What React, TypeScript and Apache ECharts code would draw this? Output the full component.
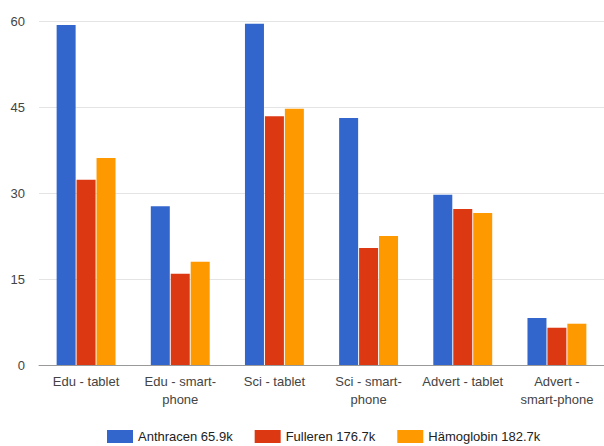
import React, { useEffect, useRef } from "react";
import * as echarts from "echarts";

const categories = [
  "Edu - tablet",
  "Edu - smart-\nphone",
  "Sci - tablet",
  "Sci - smart-\nphone",
  "Advert - tablet",
  "Advert -\nsmart-phone",
];
const seriesNames = ["Anthracen 65.9k", "Fulleren 176.7k", "Hämoglobin 182.7k"];
const anthracen = [59.3, 27.7, 59.5, 43.1, 29.7, 8.2];
const fulleren = [32.3, 15.9, 43.4, 20.4, 27.2, 6.5];
const haemoglobin = [36.1, 18.0, 44.7, 22.5, 26.5, 7.2];
const colors = ["#3366cc", "#dc3912", "#ff9900"];
const yTicks = [0, 15, 30, 45, 60];

export default function App() {
  const ref = useRef<HTMLDivElement>(null);
  useEffect(() => {
    if (!ref.current) return;
    const chart = echarts.init(ref.current, undefined, { renderer: "svg" });
    const font = "Arial, 'Liberation Sans', sans-serif";
    const values = [anthracen, fulleren, haemoglobin];
    chart.setOption({
      animation: false,
      color: colors,
      textStyle: { fontFamily: font },
      grid: { left: 39, right: 0, top: 21, bottom: 81, containLabel: false },
      legend: {
        left: 107,
        top: 430,
        padding: 0,
        itemWidth: 26,
        itemHeight: 13,
        itemGap: 22,
        icon: "rect",
        textStyle: { fontSize: 13, color: "#222", fontFamily: font },
        data: seriesNames,
      },
      xAxis: {
        type: "category",
        data: categories,
        axisTick: { show: false },
        axisLine: { lineStyle: { color: "#999", width: 1 } },
        axisLabel: {
          interval: 0,
          fontSize: 13,
          color: "#444",
          lineHeight: 18,
          margin: 7,
          fontFamily: font,
        },
      },
      yAxis: {
        type: "value",
        min: yTicks[0],
        max: yTicks[yTicks.length - 1],
        interval: 15,
        axisLine: { show: false },
        axisTick: { show: false },
        axisLabel: { fontSize: 13, color: "#444", margin: 14, fontFamily: font },
        splitLine: { lineStyle: { color: "#e4e4e4", width: 1 } },
      },
      series: seriesNames.map((name, i) => ({
        name,
        type: "bar",
        data: values[i],
        barWidth: 19,
        barGap: "5%",
        itemStyle: { color: colors[i] },
      })),
    });
    return () => chart.dispose();
  }, []);
  return (
    <div
      ref={ref}
      style={{ position: "fixed", left: 0, top: 0, width: 604, height: 446, background: "#fff" }}
    />
  );
}
